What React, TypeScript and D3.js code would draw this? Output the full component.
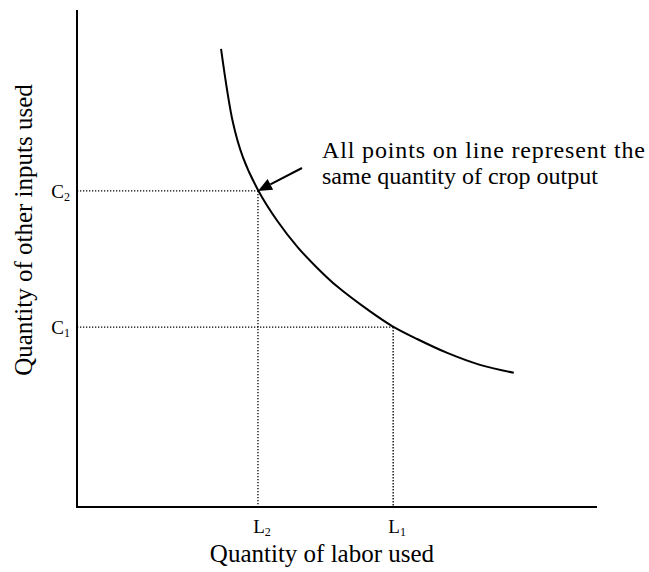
import React from 'react';
import * as d3 from 'd3';

// isoquant (labor, other inputs)
const laborValues = [2.77, 3.0, 3.19, 3.48, 3.85, 4.25, 4.63, 5.0, 5.63, 6.06, 6.54, 7.12, 7.75, 8.4];
const inputValues = [9.22, 7.73, 7.04, 6.38, 5.76, 5.22, 4.8, 4.44, 3.94, 3.64, 3.38, 3.1, 2.86, 2.7];

// marked points on the curve
const pointNames = ['2', '1'];
const pointLabor = [3.48, 6.08];
const pointInputs = [6.36, 3.62];

const xTitle = 'Quantity of labor used';
const yTitle = 'Quantity of other inputs used';
const noteLines = ['All points on line represent the', 'same quantity of crop output'];

const W = 649;
const H = 572;
const font = "'Liberation Serif', 'Times New Roman', serif";

export default function App() {
  const x = d3.scaleLinear().domain([0, 10]).range([77, 597]);
  const y = d3.scaleLinear().domain([0, 10]).range([507, 10]);

  const pts = laborValues.map((v, i) => [v, inputValues[i]] as [number, number]);
  const line = d3.line<[number, number]>()
    .x(d => x(d[0]))
    .y(d => y(d[1]))
    .curve(d3.curveCatmullRom.alpha(0.5));

  // arrow pointing at the C2/L2 point
  const tipX = x(pointLabor[0]);
  const tipY = y(pointInputs[0]);
  const startX = 302;
  const startY = 168;
  const ang = Math.atan2(tipY - startY, tipX - startX);
  const headLen = 14;
  const headW = 6;
  const bx = tipX - headLen * Math.cos(ang);
  const by = tipY - headLen * Math.sin(ang);
  const head = [
    [tipX, tipY],
    [bx + headW * Math.sin(ang), by - headW * Math.cos(ang)],
    [bx - headW * Math.sin(ang), by + headW * Math.cos(ang)],
  ].map(p => p.join(',')).join(' ');

  return (
    <svg width={W} height={H} style={{ position: 'absolute', left: 0, top: 0, fontFamily: font }}>
      <rect width={W} height={H} fill="#fff" />

      {/* guide lines */}
      {pointNames.map((n, i) => (
        <g key={n} stroke="#000" strokeWidth={1.3} strokeDasharray="1.3 1.7" fill="none">
          <line x1={x(0)} x2={x(pointLabor[i])} y1={y(pointInputs[i])} y2={y(pointInputs[i])} />
          <line x1={x(pointLabor[i])} x2={x(pointLabor[i])} y1={y(pointInputs[i])} y2={y(0)} />
        </g>
      ))}

      {/* axes */}
      <line x1={x(0)} x2={x(0)} y1={y(10)} y2={y(0) + 1} stroke="#000" strokeWidth={2} />
      <line x1={x(0) - 1} x2={x(10)} y1={y(0)} y2={y(0)} stroke="#000" strokeWidth={2} />

      {/* isoquant */}
      <path d={line(pts) ?? ''} fill="none" stroke="#000" strokeWidth={2} />

      {/* tick labels */}
      {pointNames.map((n, i) => (
        <g key={'lab' + n} fill="#000" fontSize={19}>
          <text x={70} y={y(pointInputs[i]) + 7} textAnchor="end">
            C<tspan fontSize={12} dy={3}>{n}</tspan>
          </text>
          <text x={x(pointLabor[i]) + 4} y={533} textAnchor="middle">
            L<tspan fontSize={12} dy={3}>{n}</tspan>
          </text>
        </g>
      ))}

      {/* axis titles */}
      <text x={322} y={562} textAnchor="middle" fontSize={25}>{xTitle}</text>
      <text transform={`translate(32,230) rotate(-90)`} textAnchor="middle" fontSize={25}>{yTitle}</text>

      {/* annotation */}
      <line x1={startX} y1={startY} x2={bx} y2={by} stroke="#000" strokeWidth={2} />
      <polygon points={head} fill="#000" />
      <text x={322} y={158} fontSize={24} textLength={323} lengthAdjust="spacing">{noteLines[0]}</text>
      <text x={322} y={184} fontSize={24}>{noteLines[1]}</text>
    </svg>
  );
}
